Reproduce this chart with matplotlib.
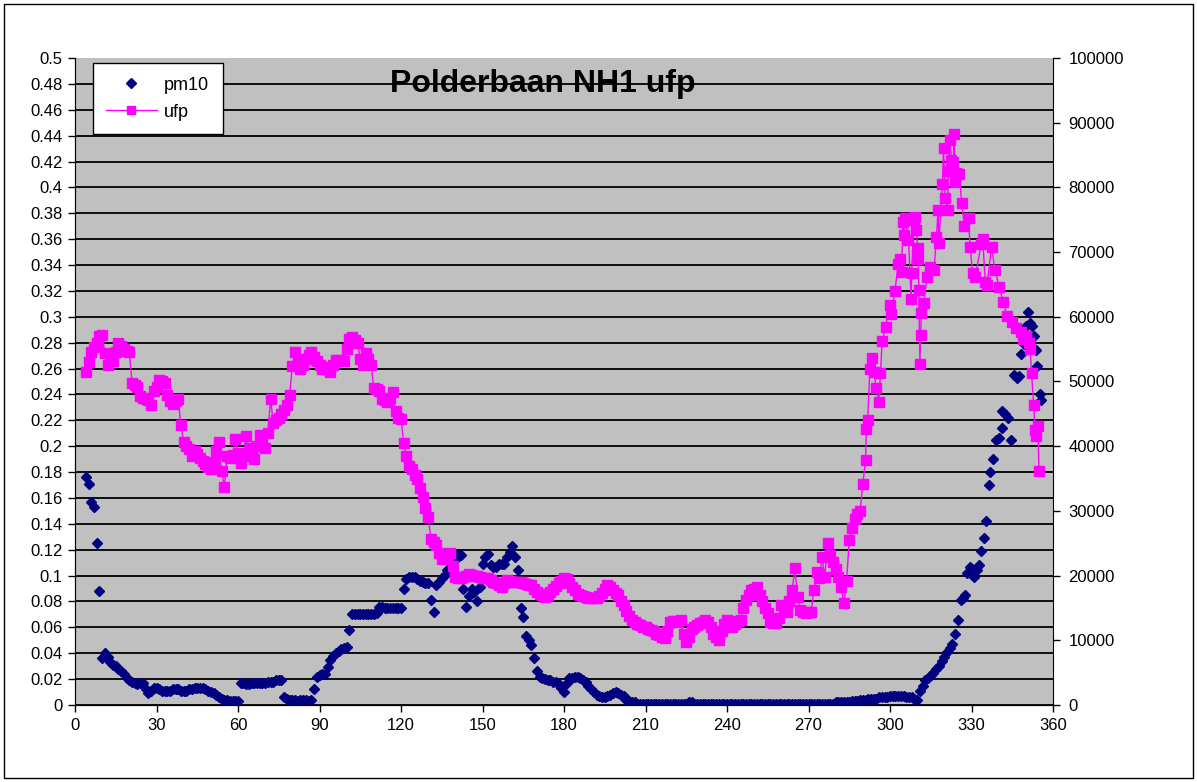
import numpy as np
import matplotlib.pyplot as plt
from matplotlib.patches import Rectangle

# pm10 per degree, starting at 4 deg
pm10_head = [
    0.176, 0.171, 0.157, 0.153, 0.125, 0.088, 0.036, 0.040, 0.037, 0.033,
    0.031, 0.030, 0.028, 0.026, 0.024, 0.021, 0.019, 0.018, 0.017, 0.016,
    0.017, 0.017, 0.012, 0.009, 0.011, 0.013, 0.013, 0.012, 0.011, 0.011,
    0.011, 0.011, 0.012, 0.012, 0.012, 0.011, 0.011, 0.011, 0.012, 0.012,
    0.013, 0.013, 0.013, 0.013, 0.012, 0.011, 0.010, 0.009, 0.008, 0.006,
    0.005, 0.004, 0.004, 0.003, 0.003, 0.003, 0.003, 0.017, 0.017, 0.016,
    0.016, 0.017, 0.017, 0.017, 0.017, 0.017, 0.017, 0.018, 0.018, 0.018,
    0.019, 0.019, 0.019, 0.006, 0.005, 0.004, 0.004, 0.004, 0.003, 0.004,
    0.004, 0.004, 0.003, 0.004, 0.012, 0.022, 0.023, 0.024, 0.024, 0.029,
    0.035, 0.038, 0.040, 0.042, 0.043, 0.044, 0.045, 0.058, 0.070, 0.070,
    0.070, 0.070, 0.070, 0.070, 0.070, 0.070, 0.070, 0.071, 0.076, 0.076,
    0.075, 0.075, 0.075, 0.075, 0.075, 0.075, 0.075, 0.090, 0.097, 0.099,
    0.099, 0.099, 0.097, 0.096, 0.095, 0.094, 0.094, 0.081, 0.072, 0.093,
    0.095, 0.098, 0.100, 0.104, 0.106, 0.108, 0.112, 0.117, 0.116, 0.090,
    0.076, 0.084, 0.090, 0.087, 0.080, 0.091, 0.109, 0.114, 0.117, 0.108,
    0.107, 0.107, 0.109, 0.109, 0.109, 0.114, 0.118, 0.123, 0.114, 0.104,
    0.075, 0.068, 0.053, 0.050, 0.046, 0.036, 0.026, 0.022, 0.021, 0.020,
    0.019, 0.019, 0.018, 0.018, 0.016, 0.013, 0.010, 0.017, 0.021, 0.021,
    0.022, 0.022, 0.021, 0.019, 0.018, 0.015, 0.012, 0.010, 0.008, 0.007,
    0.006, 0.006, 0.007, 0.008, 0.009, 0.010, 0.009, 0.008, 0.007, 0.004,
    0.003, 0.002, 0.002, 0.001, 0.001, 0.001, 0.001, 0.001, 0.001, 0.001,
    0.001, 0.001, 0.001, 0.001, 0.001, 0.001, 0.001, 0.001, 0.001, 0.001,
    0.001, 0.001, 0.002, 0.002, 0.001, 0.001, 0.001, 0.001, 0.001, 0.001,
    0.001, 0.001, 0.001, 0.001, 0.001, 0.001, 0.001, 0.001, 0.001, 0.001,
    0.001, 0.001, 0.001, 0.001, 0.001, 0.001, 0.001, 0.001, 0.001, 0.001,
    0.001, 0.001, 0.001, 0.001, 0.001, 0.001, 0.001, 0.001, 0.001, 0.001,
    0.001, 0.001, 0.001, 0.001, 0.001, 0.001, 0.001, 0.001, 0.001, 0.001,
    0.001, 0.001, 0.001, 0.001, 0.001, 0.001, 0.002, 0.002, 0.002, 0.002,
    0.002, 0.002, 0.003, 0.003, 0.003, 0.004, 0.004, 0.004, 0.005, 0.005,
    0.005, 0.005, 0.006, 0.006, 0.006, 0.006, 0.007, 0.007, 0.007, 0.007,
    0.007, 0.007, 0.006, 0.006, 0.006, 0.005, 0.004, 0.011, 0.015, 0.019,
    0.021, 0.023, 0.025, 0.028, 0.030, 0.034, 0.037, 0.041, 0.044, 0.047,
    0.055, 0.066,
]

# pm10 at the steep end (deg, value)
pm10_tail = [
    (326.0, 0.081), (327.0, 0.083), (327.7, 0.085), (328.4, 0.102), (329.5, 0.107),
    (330.3, 0.105), (331.0, 0.099), (332.0, 0.104), (332.6, 0.108), (333.4, 0.119),
    (334.5, 0.129), (335.2, 0.142), (336.3, 0.170), (336.8, 0.180), (338.0, 0.190),
    (339.2, 0.205), (340.2, 0.206), (341.1, 0.214), (341.4, 0.227), (342.5, 0.225),
    (343.5, 0.222), (344.4, 0.205), (345.5, 0.255), (346.6, 0.253), (347.6, 0.254),
    (348.4, 0.271), (349.3, 0.279), (350.2, 0.293), (350.9, 0.304), (351.5, 0.295),
    (352.2, 0.293), (352.9, 0.285), (353.7, 0.274), (354.2, 0.262), (355.1, 0.240),
    (355.5, 0.236),
]

# ufp per degree, starting at 4 deg
ufp_head = [
    51500, 53000, 54500, 55400, 56000, 57000, 57200, 54400, 52600, 53500,
    53100, 54500, 55900, 55500, 55100, 54700, 54500, 49800, 49500, 49200,
    47700, 47500, 47300, 47200, 46400, 48500, 49100, 50200, 50000, 49700,
    47900, 47000, 46500, 47000, 47300, 43200, 40600, 40000, 39500, 38500,
    39300, 38800, 38200, 37700, 37200, 36800, 36400, 37500, 39300, 40600,
    36100, 33700, 38500, 38200, 38600, 41100, 39000, 37400, 38500, 41500,
    39700, 38800, 38000, 40000, 41800, 41300, 39700, 42000, 47300, 43600,
    44000, 44400, 44900, 45600, 46400, 47900, 52400, 54500, 53500, 51900,
    52600, 53500, 54100, 54500, 53800, 53100, 52500, 52000, 52300, 51900,
    51500, 52500, 53400, 53300, 53200, 53100, 55000, 56500, 56900, 56400,
    55900, 53500, 52600, 54400, 53500, 52600, 49000, 48800, 48600, 47300,
    47100, 46900, 47500, 48300, 45400, 44400, 44200, 40500, 38500, 37000,
    36500, 35500, 35000, 33500, 32200, 30500, 29100, 25700, 25200, 24700,
    23500, 22600, 22800, 23200, 23500, 21500, 19800, 19700, 19600, 19800,
    20000, 20200, 20100, 20000, 19900, 19800, 19700, 19700, 19600, 19300,
    19000, 18800, 18500, 18300, 18800, 19300, 19200, 19000, 19000, 19000,
    19000, 18800, 18700, 18600, 18500, 18000, 17500, 17200, 17000, 16700,
    17000, 17500, 18000, 18400, 18800, 19200, 19600, 19400, 18800, 18300,
    17800, 17200, 17000, 16800, 16700, 16600, 16600, 16500, 16500, 16800,
    17300, 18000, 18500, 18300, 17800, 17300, 17000, 16000, 15500, 14500,
    13800, 13100, 12800, 12500, 12300, 12100, 12000, 11800, 11600, 11500,
    11000, 10800, 10500, 10300, 11500, 12900, 13000, 13000, 12800, 13100,
    11000, 9800, 10500, 11800, 12000, 12300, 12600, 12800, 13100, 12900,
    12000, 11000, 10500, 10000, 11500, 12500, 13100, 12600, 12100, 12500,
    13000, 13100, 15000, 16200, 17000, 17800, 18000, 18300, 17000, 16000,
    15000, 14200, 12800, 12600, 12600, 13500, 15500, 15000, 14400, 16000,
    17800, 21100, 16700, 14700, 14400, 14200, 14300, 14400, 17800, 20600,
    19600, 22900, 19800, 25000, 23200, 22100, 21000, 19800, 18300, 15700,
    19100, 25500, 27300, 28800, 29500, 30000, 34200,
]

# ufp around the peak (deg, value)
ufp_tail = [
    (291.0, 37900), (291.3, 42600), (291.8, 44100), (292.6, 52000), (293.4, 53600),
    (294.0, 51400), (295.0, 49000), (295.9, 46900), (296.5, 51300), (297.1, 56200),
    (298.4, 58500), (299.9, 61800), (300.5, 60500), (301.8, 64000), (303.0, 68100),
    (303.7, 69000), (304.3, 67000), (304.7, 74600), (305.0, 72600), (305.6, 75200),
    (306.8, 71900), (307.8, 62700), (308.0, 66700), (308.7, 75000), (309.3, 75500),
    (309.7, 73400), (310.2, 70600), (310.4, 69000), (310.6, 64100), (311.0, 52700),
    (311.3, 57200), (311.5, 60600), (312.4, 62100), (313.7, 66200), (314.9, 67700),
    (316.2, 67200), (317.1, 72400), (317.7, 76500), (318.0, 71400), (319.3, 80600),
    (319.7, 86100), (320.3, 78300), (321.2, 76500), (321.5, 82500), (322.1, 87400),
    (322.6, 84300), (323.3, 84000), (323.6, 88300), (323.9, 80900), (324.3, 82200),
    (325.5, 82000), (326.4, 77600), (327.4, 74000), (328.9, 75200), (329.5, 70800),
    (330.4, 66800), (331.4, 66200), (333.6, 71300), (334.1, 72100), (335.1, 65400),
    (335.7, 64900), (337.4, 70800), (338.6, 67200), (340.3, 64600), (341.6, 62300),
    (343.2, 60200), (344.8, 59200), (346.3, 58200), (348.1, 57700), (349.0, 56500),
    (350.0, 57000), (351.0, 56000), (351.6, 55000), (352.1, 51300), (352.9, 46400),
    (353.4, 42500), (353.9, 41500), (354.5, 43100), (354.8, 36100),
]

pm10_deg = list(range(4, 4 + len(pm10_head))) + [d for d, v in pm10_tail]
pm10 = pm10_head + [v for d, v in pm10_tail]
ufp_deg = list(range(4, 4 + len(ufp_head))) + [d for d, v in ufp_tail]
ufp = ufp_head + [v for d, v in ufp_tail]

x_ticks = list(range(0, 361, 30))
left_ticks = np.round(np.arange(0, 0.5001, 0.02), 2)
right_ticks = list(range(0, 100001, 10000))

plt.rcParams['font.family'] = ['Liberation Sans', 'DejaVu Sans']

W, H = 1197, 782
fig = plt.figure(figsize=(W / 100, H / 100), dpi=100)
fig.patches.append(Rectangle((4 / W, 4 / H), 1189 / W, 774 / H, transform=fig.transFigure,
                             fill=False, edgecolor='black', linewidth=1))

ax = fig.add_axes([75 / W, 1 - 705 / H, 978 / W, 647 / H])
ax.set_facecolor('#c0c0c0')
ax.set_xlim(0, 360)
ax.set_ylim(0, 0.5)
ax.set_xticks(x_ticks)
ax.set_yticks(left_ticks)
ax.set_yticklabels([f"{v:g}" for v in left_ticks])
ax.yaxis.grid(True, color='black', linewidth=1.3)
ax.get_ygridlines()[-1].set_visible(False)
ax.set_axisbelow(True)
ax.tick_params(direction='out', length=5, width=1, labelsize=12, pad=4)
for s in ['top', 'right']:
    ax.spines[s].set_visible(False)

h1, = ax.plot(pm10_deg, pm10, ls='none', marker='D', ms=5.5, color='#000080', label='pm10')

ax2 = ax.twinx()
ax2.set_ylim(0, 100000)
ax2.set_yticks(right_ticks)
ax2.set_yticklabels([str(v) for v in right_ticks])
ax2.tick_params(direction='out', length=5, width=1, labelsize=12, pad=6)
ax2.spines['top'].set_visible(False)
h2, = ax2.plot(ufp_deg, ufp, color='#ff00ff', lw=1, marker='s', ms=7, label='ufp')

ax2.text(0.4785, 0.96, "Polderbaan NH1 ufp", transform=ax2.transAxes, ha='center', va='center',
         fontsize=23, fontweight='bold')

leg = ax2.legend([h1, h2], ['pm10', 'ufp'], loc='upper left', bbox_to_anchor=(0.018, 0.992),
                 borderaxespad=0, fontsize=13, fancybox=False, edgecolor='black', framealpha=1,
                 handlelength=2.8, handletextpad=0.4, labelspacing=0.55, borderpad=0.75,
                 markerscale=0.85)
leg.get_frame().set_linewidth(1)

fig.savefig("out.png", dpi=100)
